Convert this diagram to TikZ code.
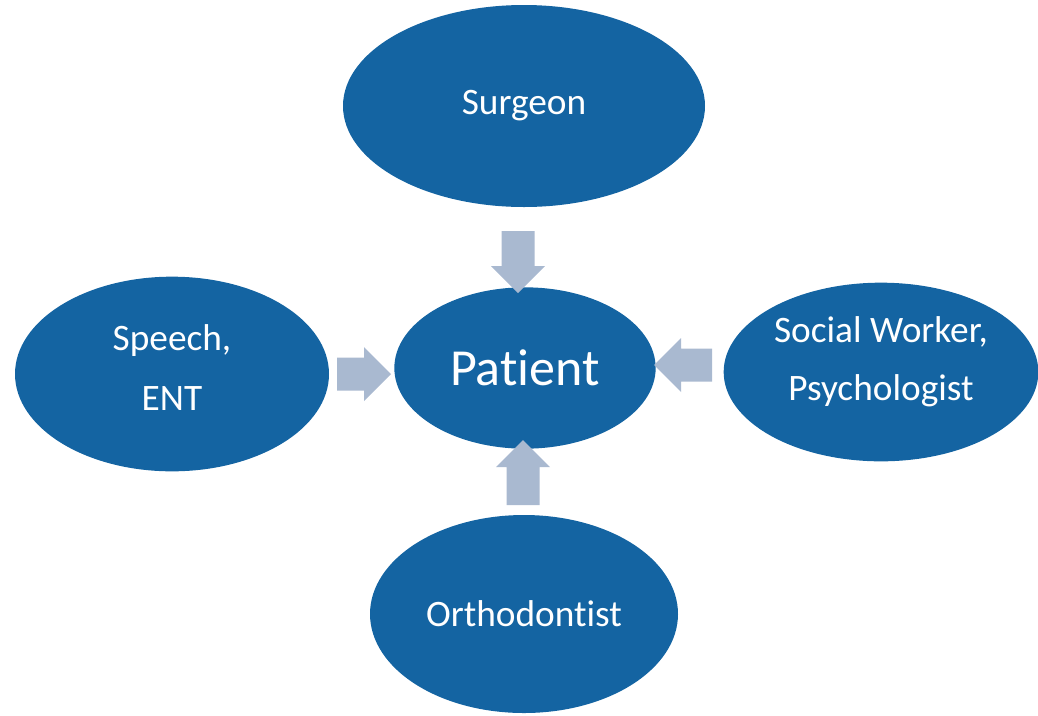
\documentclass[tikz,border=0pt]{standalone}
\usepackage{fontspec}
\setmainfont{Carlito}[Ligatures=NoCommon]
\usepackage{tikz}
\usetikzlibrary{shapes}
\definecolor{dblue}{RGB}{20,100,162}
\definecolor{lsteel}{RGB}{169,185,208}
\tikzstyle{member}=[ellipse,fill=dblue,draw=none,inner sep=0pt,text=white,align=center,font=\fontsize{28}{43}\selectfont]
\tikzstyle{centre}=[member,font=\fontsize{39}{44}\selectfont]
\tikzstyle{blockarrow}=[fill=lsteel,draw=none]
% block arrow: shift, angle, total length (head 27, head width 54, shaft 33)
\newcommand{\blockarrow}[3]{%
  \fill [style=blockarrow,shift={#1},rotate=#2]
    (0,-16.5) -- ({#3-27},-16.5) -- ({#3-27},-27) -- (#3,0)
    -- ({#3-27},27) -- ({#3-27},16.5) -- (0,16.5) -- cycle;}

\begin{document}
\begin{tikzpicture}[x=0.75pt,y=-0.75pt]
	\useasboundingbox (0,0) rectangle (1038,715);
	\node [style=member,minimum width=271.5pt,minimum height=151.5pt] (surgeon) at (524,106) {Surgeon};
	\node [style=member,minimum width=235.5pt,minimum height=146pt,text depth=9pt,font=\fontsize{28}{45}\selectfont] (speech) at (172,374) {Speech,\\ENT};
	\node [style=member,minimum width=236pt,minimum height=134pt,text depth=20pt] (social) at (881,372) {Social Worker,\\Psychologist};
	\node [style=member,minimum width=231pt,minimum height=148.5pt] (ortho) at (524,614) {Orthodontist};
	\node [style=centre,minimum width=196pt,minimum height=121pt] (patient) at (525,368) {Patient};

	% arrows into the patient
	\blockarrow{(518,231)}{-90}{62}
	\blockarrow{(337,374)}{0}{54}
	\blockarrow{(712,365)}{180}{58}
	\blockarrow{(523,505)}{90}{65}
\end{tikzpicture}
\end{document}
